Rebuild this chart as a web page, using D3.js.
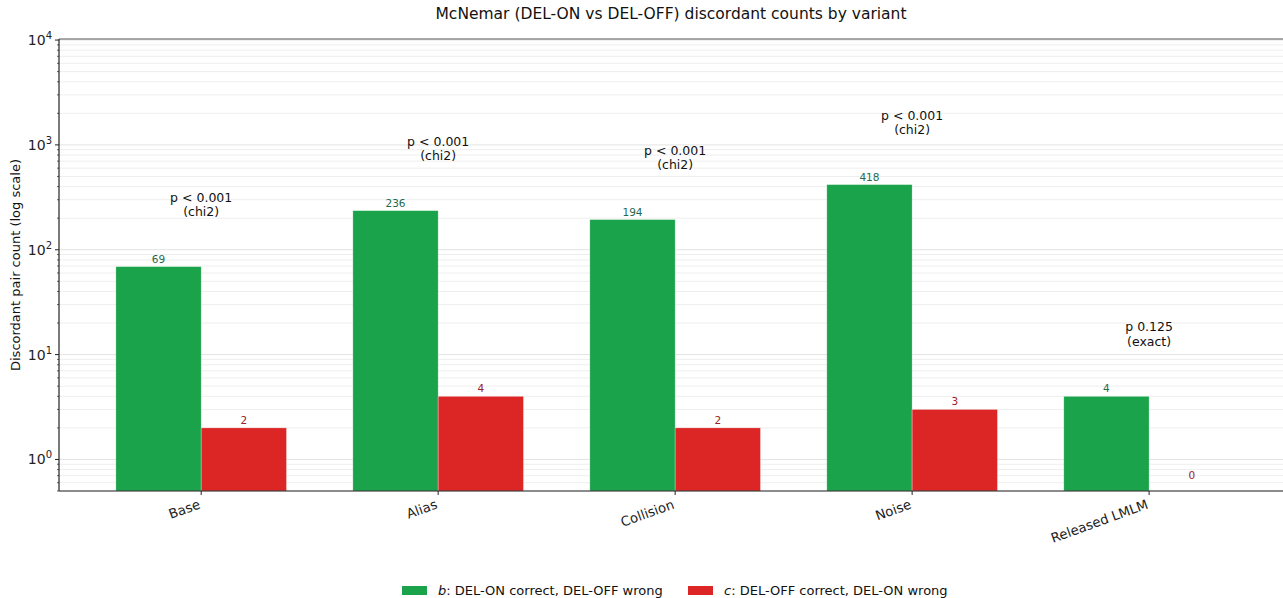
<!DOCTYPE html>
<html><head><meta charset="utf-8">
<script src="https://cdn.jsdelivr.net/npm/d3@7"></script>
<style>body{margin:0;background:#fff}svg{font-family:"DejaVu Sans",sans-serif}</style>
</head><body><svg id="c" width="1283" height="598"></svg>
<script>
const categories = ["Base","Alias","Collision","Noise","Released LMLM"];
const bValues = [69,236,194,418,4];
const cValues = [2,4,2,3,0];
const pLabels = ["p < 0.001","p < 0.001","p < 0.001","p < 0.001","p 0.125"];
const testLabels = ["(chi2)","(chi2)","(chi2)","(chi2)","(exact)"];
const yTickExps = [0,1,2,3,4];

const svg = d3.select("#c");
const L=59, R=1283, T=39, B=491;
const x = d3.scaleLinear().domain([-0.6,4.565]).range([L,R]);
const y = d3.scaleLog().domain([0.5, Math.pow(10,4.01)]).range([B,T]);
const bw = 0.36;
const green="#1aa34a", red="#dc2626";

// grid
const minor=[];
for(let e=-1;e<=4;e++) for(let k=1;k<=9;k++){const v=k*Math.pow(10,e); if(v>=0.5&&v<=Math.pow(10,4.01)) minor.push(v);}
svg.append("g").selectAll("line").data(minor).join("line")
 .attr("x1",L).attr("x2",R).attr("y1",d=>y(d)).attr("y2",d=>y(d))
 .attr("stroke",d=>Number.isInteger(Math.log10(d))?"#e3e3e3":"#eeeeee").attr("stroke-width",1);

// bars
const g=svg.append("g");
g.selectAll(".b").data(bValues).join("rect")
 .attr("x",(d,i)=>x(i-bw)).attr("width",x(bw)-x(0))
 .attr("y",d=>y(d)).attr("height",d=>B-y(d))
 .attr("fill",green).attr("stroke","#ffffff").attr("stroke-opacity",0.5).attr("stroke-width",0.6);
g.selectAll(".c").data(cValues).join("rect")
 .attr("x",(d,i)=>x(i)).attr("width",x(bw)-x(0))
 .attr("y",d=>d>0?y(d):B).attr("height",d=>d>0?B-y(d):0)
 .attr("fill",red).attr("stroke","#ffffff").attr("stroke-opacity",0.5).attr("stroke-width",0.6);

// value labels
g.selectAll(".bl").data(bValues).join("text")
 .attr("x",(d,i)=>x(i-bw/2)).attr("y",d=>y(Math.max(d,0.6))-4)
 .attr("text-anchor","middle").attr("font-size",10.5).attr("fill","#1f6b4e").text(d=>d);
g.selectAll(".cl").data(cValues).join("text")
 .attr("x",(d,i)=>x(i+bw/2)).attr("y",d=>y(Math.max(d,0.6))-4)
 .attr("text-anchor","middle").attr("font-size",10.5).attr("fill","#9b2226").text(d=>d);

// p annotations
categories.forEach((c,i)=>{
  const m=Math.max(bValues[i],cValues[i])*4;
  const t=g.append("text").attr("x",x(i)).attr("y",y(m)).attr("text-anchor","middle").attr("font-size",12.5).attr("fill","#111");
  t.append("tspan").attr("x",x(i)).attr("dy","-0.15em").text(pLabels[i]);
  t.append("tspan").attr("x",x(i)).attr("dy","1.15em").text(testLabels[i]);
});

// axes spines
svg.append("line").attr("x1",L).attr("x2",R).attr("y1",T).attr("y2",T).attr("stroke","#555").attr("stroke-width",1.2);
svg.append("line").attr("x1",L).attr("x2",R).attr("y1",B).attr("y2",B).attr("stroke","#222").attr("stroke-width",1.2);
svg.append("line").attr("x1",L).attr("x2",L).attr("y1",T).attr("y2",B).attr("stroke","#222").attr("stroke-width",1.2);

// y ticks
svg.append("g").selectAll("line").data(minor).join("line")
 .attr("x1",L).attr("x2",d=>Number.isInteger(Math.log10(d))?L-4:L-2).attr("y1",d=>y(d)).attr("y2",d=>y(d))
 .attr("stroke","#222").attr("stroke-width",d=>Number.isInteger(Math.log10(d))?1:0.7);
const yl=svg.append("g").selectAll("text").data(yTickExps).join("text")
 .attr("x",L-7).attr("y",e=>y(Math.pow(10,e))+5).attr("text-anchor","end").attr("font-size",14).attr("fill","#222");
yl.append("tspan").text("10");
yl.append("tspan").attr("dy",-6).attr("font-size",10).text(e=>e);

// x ticks
svg.append("g").selectAll("line").data(categories).join("line")
 .attr("x1",(d,i)=>x(i)).attr("x2",(d,i)=>x(i)).attr("y1",B).attr("y2",B+4).attr("stroke","#222");
svg.append("g").selectAll("text").data(categories).join("text")
 .attr("transform",(d,i)=>`translate(${x(i)},${B+17}) rotate(-20)`)
 .attr("text-anchor","end").attr("font-size",13.3).attr("fill","#222").text(d=>d);

// title & y label
svg.append("text").attr("x",(L+R)/2).attr("y",19).attr("text-anchor","middle").attr("font-size",15.5).attr("fill","#111")
 .text("McNemar (DEL-ON vs DEL-OFF) discordant counts by variant");
svg.append("text").attr("transform",`translate(20,${(T+B)/2}) rotate(-90)`).attr("text-anchor","middle").attr("font-size",13).attr("fill","#111")
 .text("Discordant pair count (log scale)");

// legend
const leg=[{c:green,v:"b",t:": DEL-ON correct, DEL-OFF wrong",x:402},{c:red,v:"c",t:": DEL-OFF correct, DEL-ON wrong",x:688}];
leg.forEach(l=>{
  svg.append("rect").attr("x",l.x).attr("y",586).attr("width",25).attr("height",9).attr("fill",l.c);
  const t=svg.append("text").attr("x",l.x+36).attr("y",595).attr("font-size",13).attr("fill","#111");
  t.append("tspan").attr("font-style","italic").text(l.v);
  t.append("tspan").text(l.t);
});
</script></body></html>
